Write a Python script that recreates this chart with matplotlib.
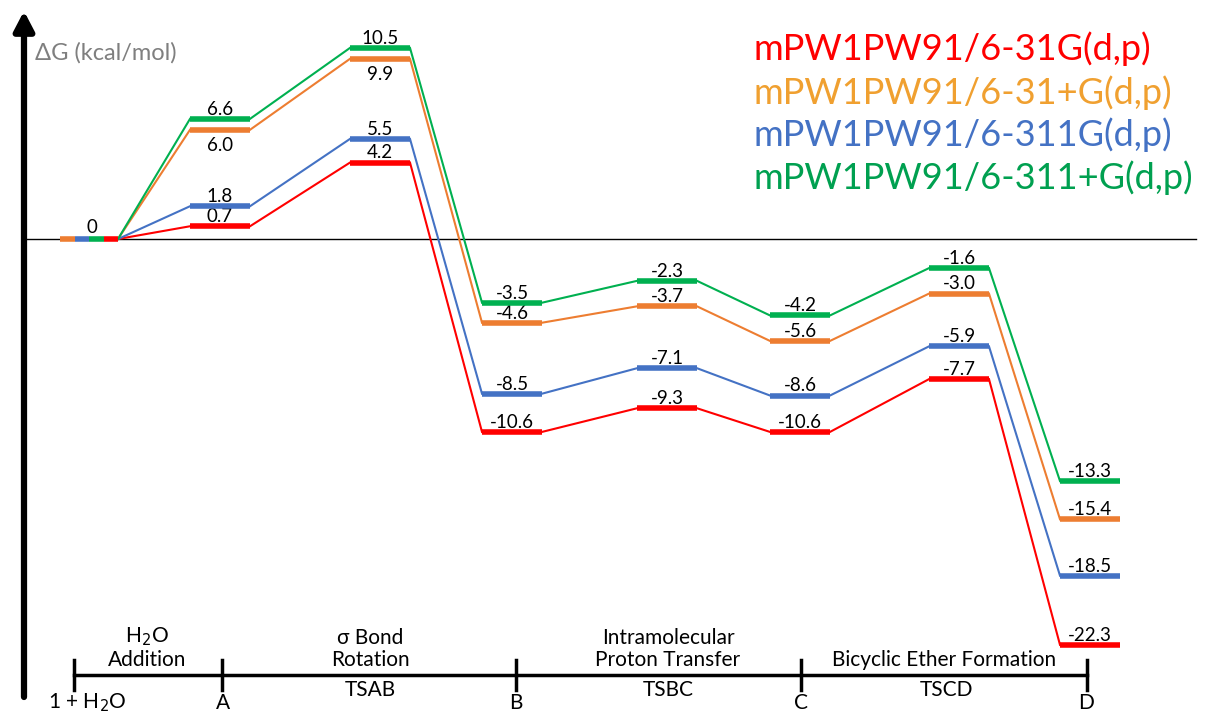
import matplotlib.pyplot as plt

plt.rcParams['font.family'] = ['Lato', 'DejaVu Sans']

# free energies (kcal/mol) for each stationary point
stages = ['1 + H$_2$O', 'A', 'TSAB', 'B', 'TSBC', 'C', 'TSCD', 'D']
g_631 = [0, 0.7, 4.2, -10.6, -9.3, -10.6, -7.7, -22.3]
g_631plus = [0, 6.0, 9.9, -4.6, -3.7, -5.6, -3.0, -15.4]
g_6311 = [0, 1.8, 5.5, -8.5, -7.1, -8.6, -5.9, -18.5]
g_6311plus = [0, 6.6, 10.5, -3.5, -2.3, -4.2, -1.6, -13.3]
methods = ['mPW1PW91/6-31G(d,p)', 'mPW1PW91/6-31+G(d,p)',
           'mPW1PW91/6-311G(d,p)', 'mPW1PW91/6-311+G(d,p)']
steps = ['H$_2$O\nAddition', 'σ Bond\nRotation', 'Intramolecular\nProton Transfer',
         'Bicyclic Ether Formation']

line_colors = ['#ff0000', '#ed7d31', '#4472c4', '#00b050']
text_colors = ['#ff0000', '#f0a030', '#4472c4', '#00a050']

W, H = 1215, 715
fig = plt.figure(figsize=(W / 100, H / 100), dpi=100)
ax = fig.add_axes([0, 0, 1, 1])
ax.set_xlim(0, W)
ax.set_ylim(-476 / 18.2, 239 / 18.2)
ax.axis('off')
ov = fig.add_axes([0, 0, 1, 1])
ov.set_xlim(0, W)
ov.set_ylim(H, 0)
ov.axis('off')
ov.patch.set_alpha(0)

centers = [89, 220, 380, 512, 667, 800, 959, 1090]
half = 30

# zero line
ax.plot([24, 1196], [0, 0], color='black', lw=1, zorder=1)

series = [g_631, g_631plus, g_6311, g_6311plus]
# split bar at the start: orange, blue, green, red
start_order = [1, 2, 3, 0]
for k, idx in enumerate(start_order):
    x0 = 60 + k * 14.5
    ax.plot([x0, x0 + 14.5], [0, 0], color=line_colors[idx], lw=4,
            solid_capstyle='butt', zorder=3)
ax.annotate('0', (centers[0] + 3, 0), xytext=(0, 4), textcoords='offset points',
            ha='center', va='baseline', fontsize=13.5)

for s, vals in enumerate(series):
    c = line_colors[s]
    for i in range(1, len(vals)):
        xl = centers[i] - half
        xr = centers[i] + half
        ax.plot([xl, xr], [vals[i], vals[i]], color=c, lw=4,
                solid_capstyle='butt', zorder=3)
        prev_r = 118 if i == 1 else centers[i - 1] + half
        ax.plot([prev_r, xl], [vals[i - 1], vals[i]], color=c, lw=1.5, zorder=2)
        # label goes under the bar when another bar sits just above it
        crowded = any(0 < o[i] - vals[i] < 0.9 for o in series)
        if crowded:
            ax.annotate(f'{vals[i]:.1f}', (centers[i], vals[i]), xytext=(0, -5),
                        textcoords='offset points', ha='center', va='top',
                        fontsize=13.5)
        else:
            ax.annotate(f'{vals[i]:.1f}', (centers[i], vals[i]), xytext=(0, 3),
                        textcoords='offset points', ha='center', va='baseline',
                        fontsize=13.5)

# y axis arrow
ov.annotate('', xy=(24, 11), xytext=(24, 697),
            arrowprops=dict(arrowstyle='-|>,head_width=0.6,head_length=1.15',
                            lw=4.5, color='black', shrinkA=0, shrinkB=0))
ov.text(35, 53, 'ΔG (kcal/mol)', fontsize=17, color='#7f7f7f', va='center')

# legend text
for i, m in enumerate(methods):
    ov.text(753, [60, 104, 146, 189][i], m, fontsize=26, color=text_colors[i],
            va='baseline', ha='left')

# reaction coordinate timeline
ticks = [74, 222, 516, 801, 1087]
ov.plot([74, 1087], [675, 675], color='black', lw=2.5)
for t in ticks:
    ov.plot([t, t], [660, 690], color='black', lw=2.5)

for s_lbl, x in zip(stages, [87, 223, 370, 516, 668, 801, 946, 1086]):
    y = 690 if s_lbl.startswith('TS') else 703
    ov.text(x, y, s_lbl, ha='center', va='center', fontsize=15)

for lbl, x in zip(steps, [147, 370, 668, 944]):
    ov.text(x, 666, lbl, ha='center', va='baseline', fontsize=15,
            linespacing=1.15)

fig.savefig('out.png', dpi=100)
